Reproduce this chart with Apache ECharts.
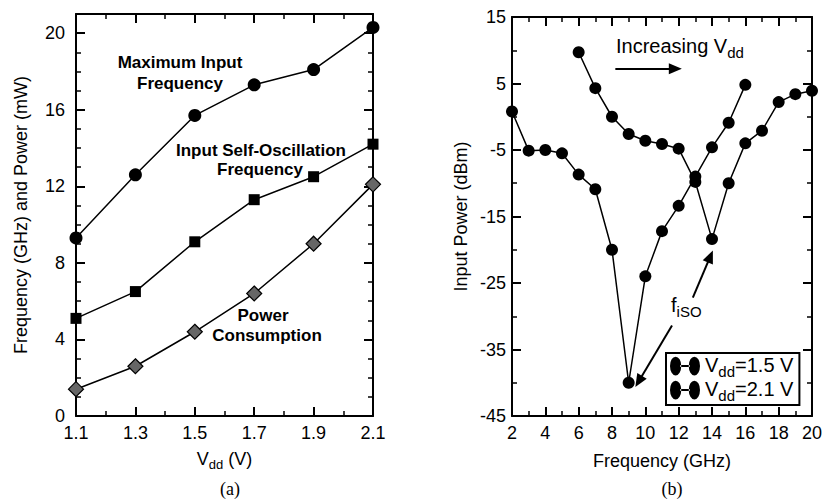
<!DOCTYPE html>
<html>
<head>
<meta charset="utf-8">
<script src="https://cdn.jsdelivr.net/npm/echarts@6/dist/echarts.min.js"></script>
<style>
    html, body { margin: 0; padding: 0; background: #fff; }
    #chart { width: 827px; height: 500px; }
</style>
</head>
<body>
<div id="chart"></div>
<script>
// (a) frequency and power against supply voltage
const vdd = [1.1, 1.3, 1.5, 1.7, 1.9, 2.1];
const maxInputFreq = [9.3, 12.6, 15.7, 17.3, 18.1, 20.3];
const selfOscFreq = [5.1, 6.5, 9.1, 11.3, 12.5, 14.2];
const powerCons = [1.4, 2.6, 4.4, 6.4, 9.0, 12.1];

// (b) input power against frequency
const freqLow = [2, 3, 4, 5, 6, 7, 8, 9, 10, 11, 12, 13, 14, 15, 16];
const pinLow = [0.8, -5.1, -5.0, -5.5, -8.7, -10.9, -20, -40, -24, -17.2, -13.4, -9.0, -4.6, -0.9, 4.8];
const freqHigh = [6, 7, 8, 9, 10, 11, 12, 13, 14, 15, 16, 17, 18, 19, 20];
const pinHigh = [9.7, 4.3, 0, -2.6, -3.6, -4.1, -4.8, -9.8, -18.4, -10, -4, -2.1, 2.2, 3.4, 3.9];

const FONT = "'Liberation Sans', Arial, sans-serif";
const rich = {
    a: { fontSize: 18, fontFamily: FONT, color: '#000', verticalAlign: 'top', lineHeight: 20 },
    b: { fontSize: 13, fontFamily: FONT, color: '#000', verticalAlign: 'top', lineHeight: 14, padding: [8, 0, 0, 0] }
};
const richBig = {
    a: { fontSize: 20, fontFamily: FONT, color: '#000', verticalAlign: 'top', lineHeight: 22 },
    b: { fontSize: 15, fontFamily: FONT, color: '#000', verticalAlign: 'top', lineHeight: 16, padding: [9, 0, 0, 0] }
};

function axis(gridIndex, pos, min, max, interval, split, showLabel, fmt, margin) {
    return {
        type: 'value',
        gridIndex: gridIndex,
        position: pos,
        min: min,
        max: max,
        interval: interval,
        axisLine: { show: true, onZero: false, lineStyle: { color: '#000', width: 2 } },
        axisTick: { show: true, inside: true, length: 9, lineStyle: { color: '#000', width: 2 } },
        minorTick: { show: true, splitNumber: split, length: 5, lineStyle: { color: '#000', width: 1.5 } },
        splitLine: { show: false },
        axisLabel: {
            show: showLabel,
            color: '#000',
            fontSize: 18,
            fontFamily: FONT,
            margin: margin,
            formatter: fmt
        }
    };
}

const fmtVdd = v => Number(v).toFixed(1);
const fmtLeftY = v => (Math.abs(v % 4) < 1e-6 ? String(v) : '');
const fmtPlain = v => String(v);

let chart = echarts.init(document.getElementById('chart'), null, { renderer: 'svg' });

const boldText = (x, y, text) => ({
    type: 'text', x: x, y: y,
    style: { text: text, font: 'bold 17px ' + FONT, fill: '#000', align: 'center', verticalAlign: 'middle' }
});

let option = {
    animation: false,
    grid: [
        { left: 76, top: 14, width: 297, height: 402 },
        { left: 512, top: 17, width: 300, height: 399 }
    ],
    xAxis: [
        Object.assign(axis(0, 'bottom', 1.1, 2.1, 0.2, 2, true, fmtVdd, 8), {
            name: '{a|V}{b|dd}{a| (V)}',
            nameLocation: 'middle',
            nameGap: 34,
            nameTextStyle: { rich: rich }
        }),
        axis(0, 'top', 1.1, 2.1, 0.2, 2, false, fmtVdd, 8),
        Object.assign(axis(1, 'bottom', 2, 20, 2, 2, true, fmtPlain, 8), {
            name: 'Frequency (GHz)',
            nameLocation: 'middle',
            nameGap: 36,
            nameTextStyle: { color: '#000', fontSize: 18, fontFamily: FONT }
        }),
        axis(1, 'top', 2, 20, 2, 2, false, fmtPlain, 8)
    ],
    yAxis: [
        Object.assign(axis(0, 'left', 0, 21, 4, 4, true, fmtLeftY, 11), {
            name: 'Frequency (GHz) and Power (mW)',
            nameLocation: 'middle',
            nameGap: 46,
            nameTextStyle: { color: '#000', fontSize: 18, fontFamily: FONT }
        }),
        axis(0, 'right', 0, 21, 4, 4, false, fmtLeftY, 11),
        Object.assign(axis(1, 'left', -45, 15, 10, 2, true, fmtPlain, 6), {
            name: 'Input Power (dBm)',
            nameLocation: 'middle',
            nameGap: 42,
            nameTextStyle: { color: '#000', fontSize: 18, fontFamily: FONT }
        }),
        axis(1, 'right', -45, 15, 10, 2, false, fmtPlain, 6)
    ],
    legend: {
        data: ['Vdd=1.5 V', 'Vdd=2.1 V'],
        orient: 'vertical',
        left: 666,
        top: 353,
        padding: [2, 6, 2, 4],
        itemGap: 0,
        itemWidth: 30,
        itemHeight: 20,
        icon: 'path://M0,10a6,10 0 1,0 12,0a6,10 0 1,0 -12,0zM11,9h10v2h-10zM20,10a6,10 0 1,0 12,0a6,10 0 1,0 -12,0z',
        borderColor: '#000',
        borderWidth: 2,
        backgroundColor: '#fff',
        itemStyle: { color: '#000' },
        formatter: name => '{a|V}{b|dd}{a|' + name.slice(3) + '}',
        textStyle: { rich: richBig }
    },
    series: [
        {
            name: 'Maximum Input Frequency',
            type: 'line',
            xAxisIndex: 0,
            yAxisIndex: 0,
            data: vdd.map((v, i) => [v, maxInputFreq[i]]),
            symbol: 'circle',
            symbolSize: 13,
            itemStyle: { color: '#000' },
            lineStyle: { color: '#000', width: 1.5 }
        },
        {
            name: 'Input Self-Oscillation Frequency',
            type: 'line',
            xAxisIndex: 0,
            yAxisIndex: 0,
            data: vdd.map((v, i) => [v, selfOscFreq[i]]),
            symbol: 'rect',
            symbolSize: 11,
            itemStyle: { color: '#000' },
            lineStyle: { color: '#000', width: 1.5 }
        },
        {
            name: 'Power Consumption',
            type: 'line',
            xAxisIndex: 0,
            yAxisIndex: 0,
            data: vdd.map((v, i) => [v, powerCons[i]]),
            symbol: 'diamond',
            symbolSize: 15,
            itemStyle: { color: '#666', borderColor: '#000', borderWidth: 1.2 },
            lineStyle: { color: '#000', width: 1.5 }
        },
        {
            name: 'Vdd=1.5 V',
            type: 'line',
            xAxisIndex: 2,
            yAxisIndex: 2,
            data: freqLow.map((f, i) => [f, pinLow[i]]),
            symbol: 'circle',
            symbolSize: 12,
            itemStyle: { color: '#000' },
            lineStyle: { color: '#000', width: 1.5 },
            markLine: {
                silent: true,
                symbol: ['none', 'triangle'],
                symbolSize: [11, 13],
                label: { show: false },
                lineStyle: { color: '#000', width: 2, type: 'solid' },
                data: [
                    [{ coord: [8.2, 7.2] }, { coord: [11.8, 7.2] }],
                    [{ coord: [11.6, -31.4] }, { coord: [9.6, -39.8] }],
                    [{ coord: [12.85, -27.2] }, { coord: [13.9, -21.0] }]
                ]
            }
        },
        {
            name: 'Vdd=2.1 V',
            type: 'line',
            xAxisIndex: 2,
            yAxisIndex: 2,
            data: freqHigh.map((f, i) => [f, pinHigh[i]]),
            symbol: 'circle',
            symbolSize: 12,
            itemStyle: { color: '#000' },
            lineStyle: { color: '#000', width: 1.5 }
        }
    ],
    graphic: [
        boldText(180, 62, 'Maximum Input'),
        boldText(180, 83, 'Frequency'),
        boldText(261, 150, 'Input Self-Oscillation'),
        boldText(260, 169, 'Frequency'),
        boldText(263, 315, 'Power'),
        boldText(267, 335, 'Consumption'),
        { type: 'text', x: 616, y: 36, style: { text: '{a|Increasing V}{b|dd}', rich: richBig } },
        { type: 'text', x: 671, y: 295, style: { text: '{a|f}{b|iSO}', rich: richBig } },
        { type: 'text', x: 230, y: 489, style: { text: '(a)', font: '18px "Liberation Serif", serif', fill: '#000', align: 'center', verticalAlign: 'middle' } },
        { type: 'text', x: 672, y: 489, style: { text: '(b)', font: '18px "Liberation Serif", serif', fill: '#000', align: 'center', verticalAlign: 'middle' } }
    ]
};

chart.setOption(option);
window.addEventListener('resize', function() {
    chart.resize();
});
</script>
</body>
</html>
